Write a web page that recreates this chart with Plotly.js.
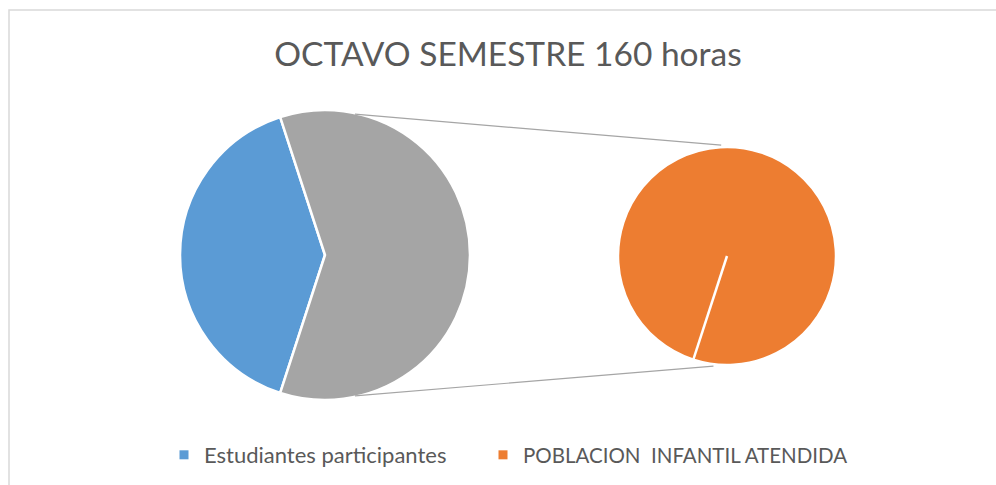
<!DOCTYPE html>
<html><head><meta charset="utf-8">
<script src="https://cdn.plot.ly/plotly-3.0.1.min.js"></script>
<style>html,body{margin:0;padding:0;background:#fff}#chart{width:996px;height:485px}</style>
</head><body><div id="chart"></div>
<script>
// ---- data ----
const labels = ["Estudiantes participantes", "POBLACION\u00A0 INFANTIL ATENDIDA"];
const values = [40, 60];
const colors = ["#5B9BD5", "#ED7D31"];
const otherLabel = "Otro";
const otherColor = "#A5A5A5";
const titleText = "OCTAVO SEMESTRE 160 horas";

// ---- geometry (pixels) ----
const W = 996, H = 485;
const L = {cx: 325, cy: 255, r: 145};
const R = {cx: 727, cy: 256, r: 109};
const px = x => x / W, py = y => 1 - y / H;
const dom = c => ({x: [px(c.cx - c.r), px(c.cx + c.r)], y: [py(c.cy + c.r), py(c.cy - c.r)]});
const pt = (c, deg, rr) => { const a = deg * Math.PI / 180; return [c.cx + rr * Math.sin(a), c.cy - rr * Math.cos(a)]; };

const total = values.reduce((a, b) => a + b, 0);
const firstDeg = 360 * values[0] / total;
const rot = 270 - firstDeg / 2;

const font = "Lato, 'Open Sans', sans-serif";
const txt = "#595959";

const pieL = {
  type: 'pie', values: [values[0], values[1]], labels: [labels[0], otherLabel],
  marker: {colors: [colors[0], otherColor], line: {color: '#fff', width: 2.5}},
  sort: false, direction: 'clockwise', rotation: rot, textinfo: 'none',
  hoverinfo: 'label+value', showlegend: false, domain: dom(L)
};
const pieR = {
  type: 'pie', values: [values[1]], labels: [labels[1]],
  marker: {colors: [colors[1]], line: {color: '#fff', width: 2.5}},
  sort: false, direction: 'clockwise', rotation: rot, textinfo: 'none',
  hoverinfo: 'label+value', showlegend: false, domain: dom(R)
};
const legendNames = ['legend', 'legend2'];
const legendTraces = labels.map((l, i) => ({
  type: 'scatter', mode: 'markers', x: [null], y: [null], name: l, legend: legendNames[i],
  marker: {symbol: 'square', size: 9, color: colors[i]}, showlegend: true, hoverinfo: 'skip'
}));

function seg(a, b, color, width) {
  return {type: 'line', xref: 'paper', yref: 'paper', x0: px(a[0]), y0: py(a[1]), x1: px(b[0]), y1: py(b[1]),
    line: {color: color, width: width}};
}
const shapes = [
  {type: 'rect', xref: 'paper', yref: 'paper', x0: px(9), x1: 1.05, y0: -0.05, y1: py(10),
   line: {color: '#D9D9D9', width: 1.5}, fillcolor: 'rgba(0,0,0,0)', layer: 'below'},
  seg(pt(L, 12, 144), pt(R, -3, 111), '#A5A5A5', 1.2),
  seg(pt(L, 168, 144), pt(R, 187, 111), '#A5A5A5', 1.2),
  seg(pt(R, rot, 0), pt(R, rot, R.r), '#FFFFFF', 2.5)
];

const legendBase = {orientation: 'h', xanchor: 'left', y: py(455), yanchor: 'middle', bgcolor: 'rgba(0,0,0,0)'};

const layout = {
  width: W, height: H, margin: {l: 0, r: 0, t: 0, b: 0},
  paper_bgcolor: '#fff', plot_bgcolor: '#fff',
  title: {text: titleText, x: px(508), xanchor: 'center', y: py(54), yanchor: 'middle',
    font: {family: font, size: 33.5, color: txt}},
  xaxis: {visible: false}, yaxis: {visible: false},
  showlegend: true,
  legend: Object.assign({}, legendBase, {x: px(164), font: {family: font, size: 22, color: txt}}),
  legend2: Object.assign({}, legendBase, {x: px(483), font: {family: font, size: 20.5, color: txt}}),
  shapes: shapes
};

Plotly.newPlot('chart', [pieL, pieR].concat(legendTraces), layout, {displayModeBar: false, staticPlot: true});
</script>
</body></html>
